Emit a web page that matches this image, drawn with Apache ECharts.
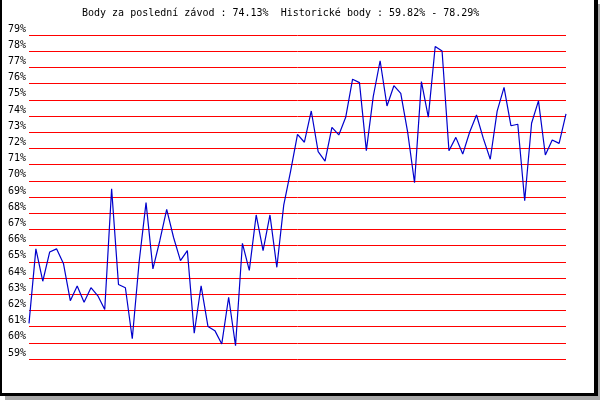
<!DOCTYPE html>
<html>
<head>
<meta charset="utf-8">
<script src="https://cdn.jsdelivr.net/npm/echarts@6/dist/echarts.min.js"></script>
<style>
html,body{margin:0;padding:0;background:#fff;}
#c{width:600px;height:400px;}
</style>
</head>
<body>
<div id="c"></div>
<script>
// Race index (1..79)
const races = Array.from({length: 79}, (_, i) => String(i + 1));
// Points (%) per race
const points = [
  61.2, 65.8, 63.8, 65.6, 65.8, 64.9, 62.6, 63.5, 62.5, 63.4,
  62.9, 62.05, 69.5, 63.6, 63.4, 60.25, 65.0, 68.65, 64.56, 66.3,
  68.24, 66.5, 65.07, 65.69, 60.59, 63.52, 61.0, 60.75, 59.93, 62.81,
  59.82, 66.14, 64.47, 67.89, 65.69, 67.89, 64.66, 68.5, 70.6, 72.87,
  72.38, 74.31, 71.8, 71.22, 73.3, 72.83, 73.92, 76.27, 76.06, 71.86,
  75.2, 77.41, 74.62, 75.87, 75.4, 73.0, 69.88, 76.12, 73.93, 78.29,
  78.01, 71.86, 72.68, 71.65, 73.0, 74.06, 72.6, 71.33, 74.3, 75.77,
  73.4, 73.49, 68.77, 73.55, 74.93, 71.59, 72.52, 72.31, 74.13
];
const yMin = 59, yMax = 79, yStep = 1;
const titleText = 'Body za poslední závod : 74.13%  Historické body : 59.82% - 78.29%';

const chart = echarts.init(document.getElementById('c'), null, {renderer: 'canvas'});
chart.setOption({
  animation: false,
  backgroundColor: '#ffffff',
  title: {
    text: titleText,
    left: 77, top: 3,
    textStyle: {fontFamily: 'DejaVu Sans Mono', fontSize: 10, fontWeight: 'normal', color: '#000'}
  },
  grid: {left: 29, right: 34, top: 35, bottom: 41},
  xAxis: {
    type: 'category', data: races, boundaryGap: false,
    axisLine: {show: false}, axisTick: {show: false}, axisLabel: {show: false}, splitLine: {show: false}
  },
  yAxis: {
    type: 'value', min: yMin, max: yMax, interval: yStep,
    axisLine: {show: false}, axisTick: {show: false},
    axisLabel: {
      formatter: '{value}%', margin: 3, showMinLabel: true, showMaxLabel: true,
      fontFamily: 'DejaVu Sans Mono', fontSize: 10, color: '#000',
      verticalAlign: 'bottom', lineHeight: 12
    },
    splitLine: {show: true, lineStyle: {color: '#ff0000', width: 1}}
  },
  series: [{
    type: 'line', data: points, symbol: 'none',
    lineStyle: {color: '#0000cc', width: 1.2}
  }],
  graphic: [
    {type: 'rect', shape: {x: 598, y: 4, width: 2, height: 396}, style: {fill: '#a8a8a8'}, silent: true},
    {type: 'rect', shape: {x: 5, y: 396, width: 595, height: 4}, style: {fill: '#a8a8a8'}, silent: true},
    {type: 'rect', shape: {x: 0, y: 0, width: 2, height: 396}, style: {fill: '#000'}, silent: true},
    {type: 'rect', shape: {x: 594, y: 0, width: 4, height: 396}, style: {fill: '#000'}, silent: true},
    {type: 'rect', shape: {x: 0, y: 393, width: 598, height: 3}, style: {fill: '#000'}, silent: true}
  ]
});
</script>
</body>
</html>
